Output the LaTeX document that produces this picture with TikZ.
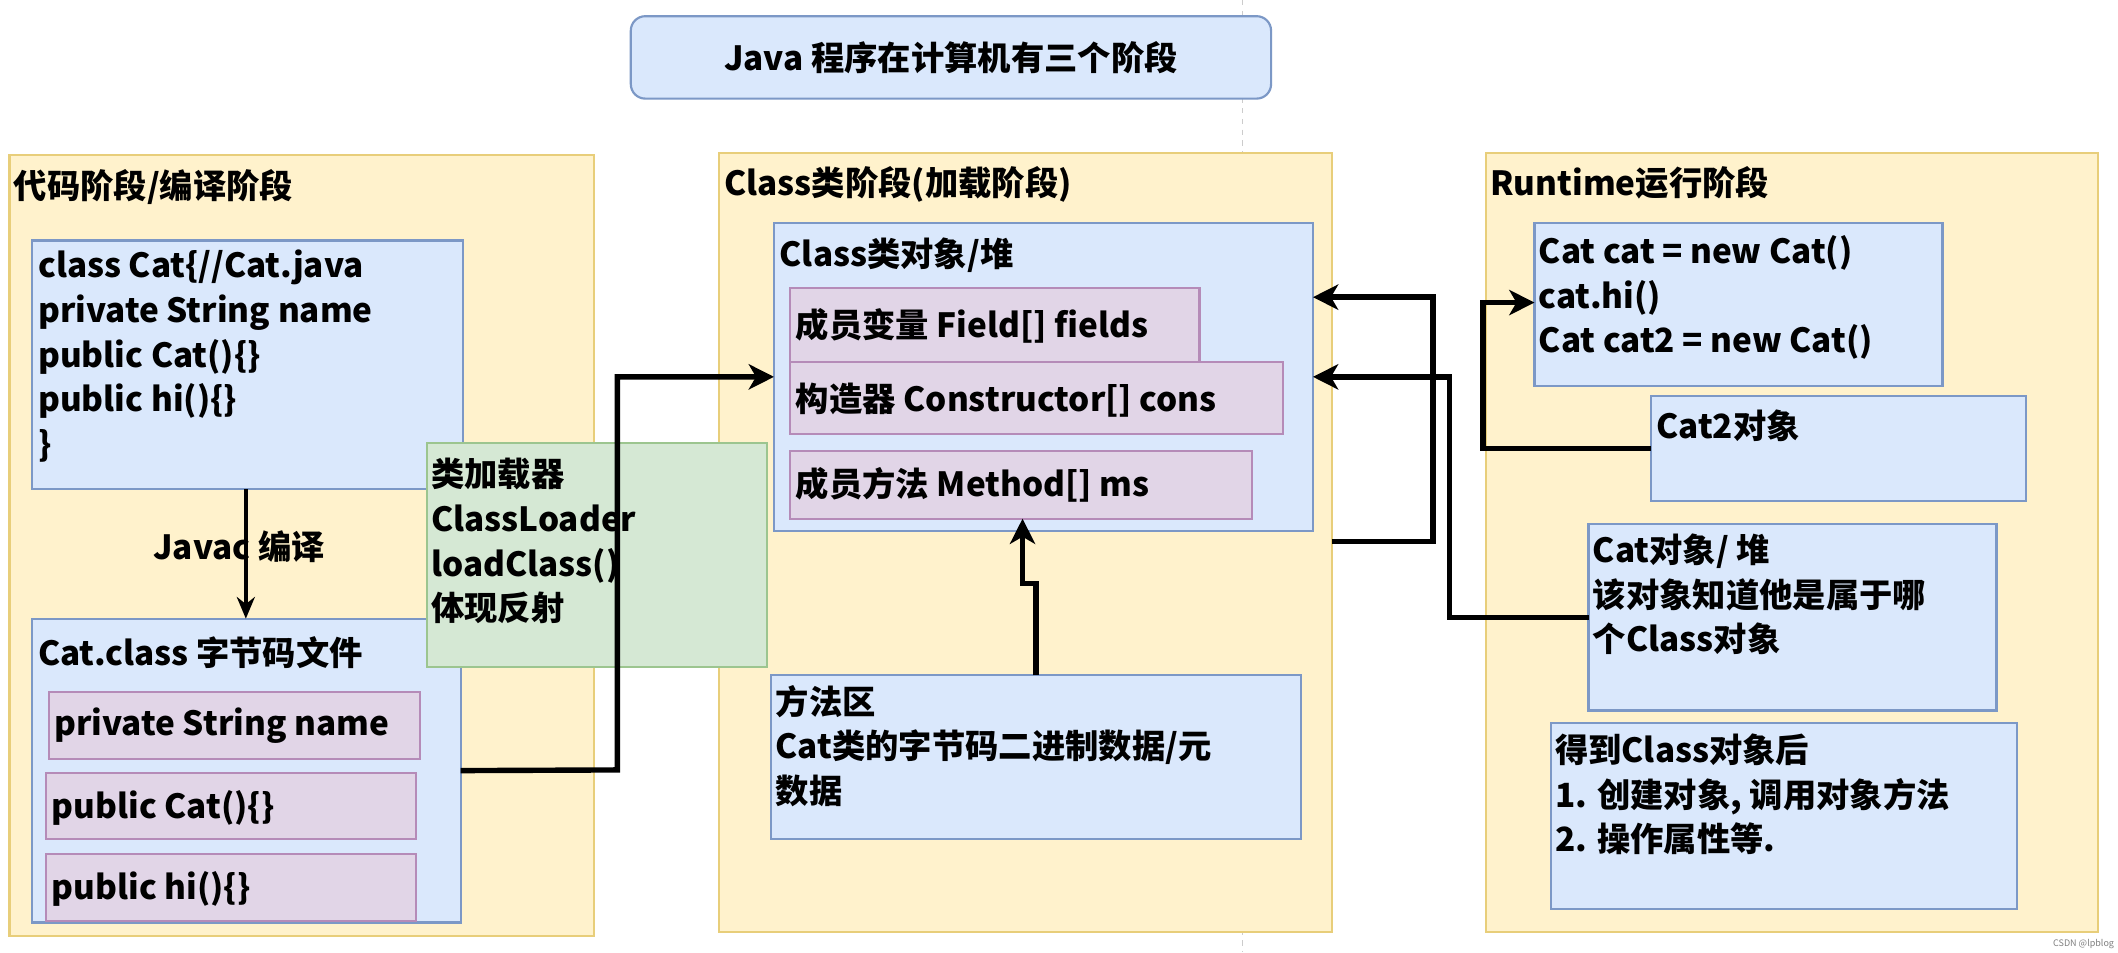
\documentclass[tikz,border=0pt]{standalone}
\usepackage{fontspec}
\setmainfont{Noto Sans CJK SC}
\usetikzlibrary{arrows.meta}
\definecolor{yel}{HTML}{FFF2CC}
\definecolor{yeld}{HTML}{E8CE7A}
\definecolor{blu}{HTML}{DAE8FC}
\definecolor{blud}{HTML}{7C98C6}
\definecolor{pnk}{HTML}{E1D5E7}
\definecolor{pnkd}{HTML}{B58BB8}
\definecolor{grn}{HTML}{D5E8D4}
\definecolor{grnd}{HTML}{9CC58F}
\newcommand\bx[6]{\node[#6,anchor=north west,minimum width={(#4-#2)*0.75pt},minimum height={(#5-#3)*0.75pt}] (#1) at (#2,#3) {};}
\tikzset{
 base/.style={draw,line width=1.2pt,inner sep=0pt,outer sep=0pt},
 ybox/.style={base,fill=yel,draw=yeld},
 bbox/.style={base,fill=blu,draw=blud},
 pbox/.style={base,fill=pnk,draw=pnkd},
 gbox/.style={base,fill=grn,draw=grnd},
 txt/.style={anchor=north west,align=left,inner sep=0pt,font=\fontsize{18.5}{24.8}\selectfont\bfseries},
 conn/.style={line width=3pt},
 tip/.style={-{Stealth[length=14pt,width=14pt,inset=4pt]}},
}
\begin{document}
\begin{tikzpicture}[x=0.75pt,y=-0.75pt]
\useasboundingbox (0,0) rectangle (1568,705);
\fill[white] (0,0) rectangle (1568,705);
\draw[gray!40,dashed,line width=0.8pt] (920,0) -- (920,705);
\node[bbox,rounded corners=8pt,anchor=north west,minimum width={474*0.75pt},minimum height={61*0.75pt}] (title) at (467,12) {};
\node[txt,anchor=center] at (title.center) {Java 程序在计算机有三个阶段};
% panels
\bx{lp}{7}{115}{440}{693}{ybox}
\bx{mp}{532}{113}{986}{690}{ybox}
\bx{rp}{1100}{113}{1553}{690}{ybox}
\node[txt] at (10,125) {代码阶段/编译阶段};
\node[txt] at (536,123) {Class类阶段(加载阶段)};
\node[txt] at (1103,123) {Runtime运行阶段};
% left
\bx{code}{24}{178}{343}{362}{bbox}
\node[txt] at (28,185) {class Cat\{//Cat.java\\private String name\\public Cat()\{\}\\public hi()\{\}\\\}};
\bx{cc}{24}{458}{341}{683}{bbox}
\node[txt] at (28,471) {Cat.class 字节码文件};
\bx{p1}{36}{512}{311}{562}{pbox}
\node[txt,anchor=west] at (40,537) {private String name};
\bx{p2}{34}{572}{308}{621}{pbox}
\node[txt,anchor=west] at (38,598) {public Cat()\{\}};
\bx{p3}{34}{632}{308}{682}{pbox}
\node[txt,anchor=west] at (38,658) {public hi()\{\}};
\draw[line width=2.5pt,-{Stealth[length=12pt,width=10pt]}] (code.south -| 182,0) -- (cc.north -| 182,0);
\node[txt,anchor=west,fill=yel,inner sep=1pt] at (112,405) {Javac 编译};
\draw[line width=2.5pt] (182,385) -- (182,425);
% green
\bx{gl}{316}{328}{568}{494}{gbox}
\node[txt] at (319,339) {类加载器\\ClassLoader\\loadClass()\\体现反射};
% middle
\bx{co}{573}{165}{972}{393}{bbox}
\node[txt] at (577,176) {Class类对象/堆};
\bx{f1}{585}{213}{888}{268}{pbox}
\node[txt,anchor=west] at (589,241) {成员变量 Field[] fields};
\bx{f2}{585}{268}{950}{321}{pbox}
\node[txt,anchor=west] at (589,296) {构造器 Constructor[] cons};
\bx{f3}{585}{334}{927}{384}{pbox}
\node[txt,anchor=west] at (589,359) {成员方法 Method[] ms};
\bx{ma}{571}{500}{963}{621}{bbox}
\node[txt] at (574,507) {方法区\\Cat类的字节码二进制数据/元\\数据};
% right
\bx{rc}{1136}{165}{1438}{286}{bbox}
\node[txt] at (1139,174) {Cat cat = new Cat()\\cat.hi()\\Cat cat2 = new Cat()};
\bx{c2}{1222}{293}{1500}{371}{bbox}
\node[txt] at (1226,303) {Cat2对象};
\bx{c1}{1176}{388}{1478}{526}{bbox}
\node[txt] at (1179,395) {Cat对象/ 堆\\该对象知道他是属于哪\\个Class对象};
\bx{ob}{1148}{535}{1493}{673}{bbox}
\node[txt] at (1151,543) {得到Class对象后\\1. 创建对象, 调用对象方法\\2. 操作属性等.};
% connectors
\draw[conn,tip] (cc.east) -- (457,570) -- (457,279) -- (co.west |- 457,279);
\draw[conn,tip] (ma.north -| 767,0) -- (767,432) -- (757,432) -- (f3.south -| 757,0);
\draw[conn,tip] (mp.east |- 0,401) -- (1061,401) -- (1061,220) -- (co.east |- 0,220);
\draw[conn,tip] (c2.west) -- (1098,332) -- (1098,224) -- (rc.west |- 0,224);
\draw[conn,tip] (c1.west |- 0,457) -- (1073,457) -- (1073,279) -- (co.east |- 0,279);
\node[anchor=south east,font=\tiny,text=gray,inner sep=2pt] at (1568,705) {CSDN @lpblog};
\end{tikzpicture}
\end{document}
